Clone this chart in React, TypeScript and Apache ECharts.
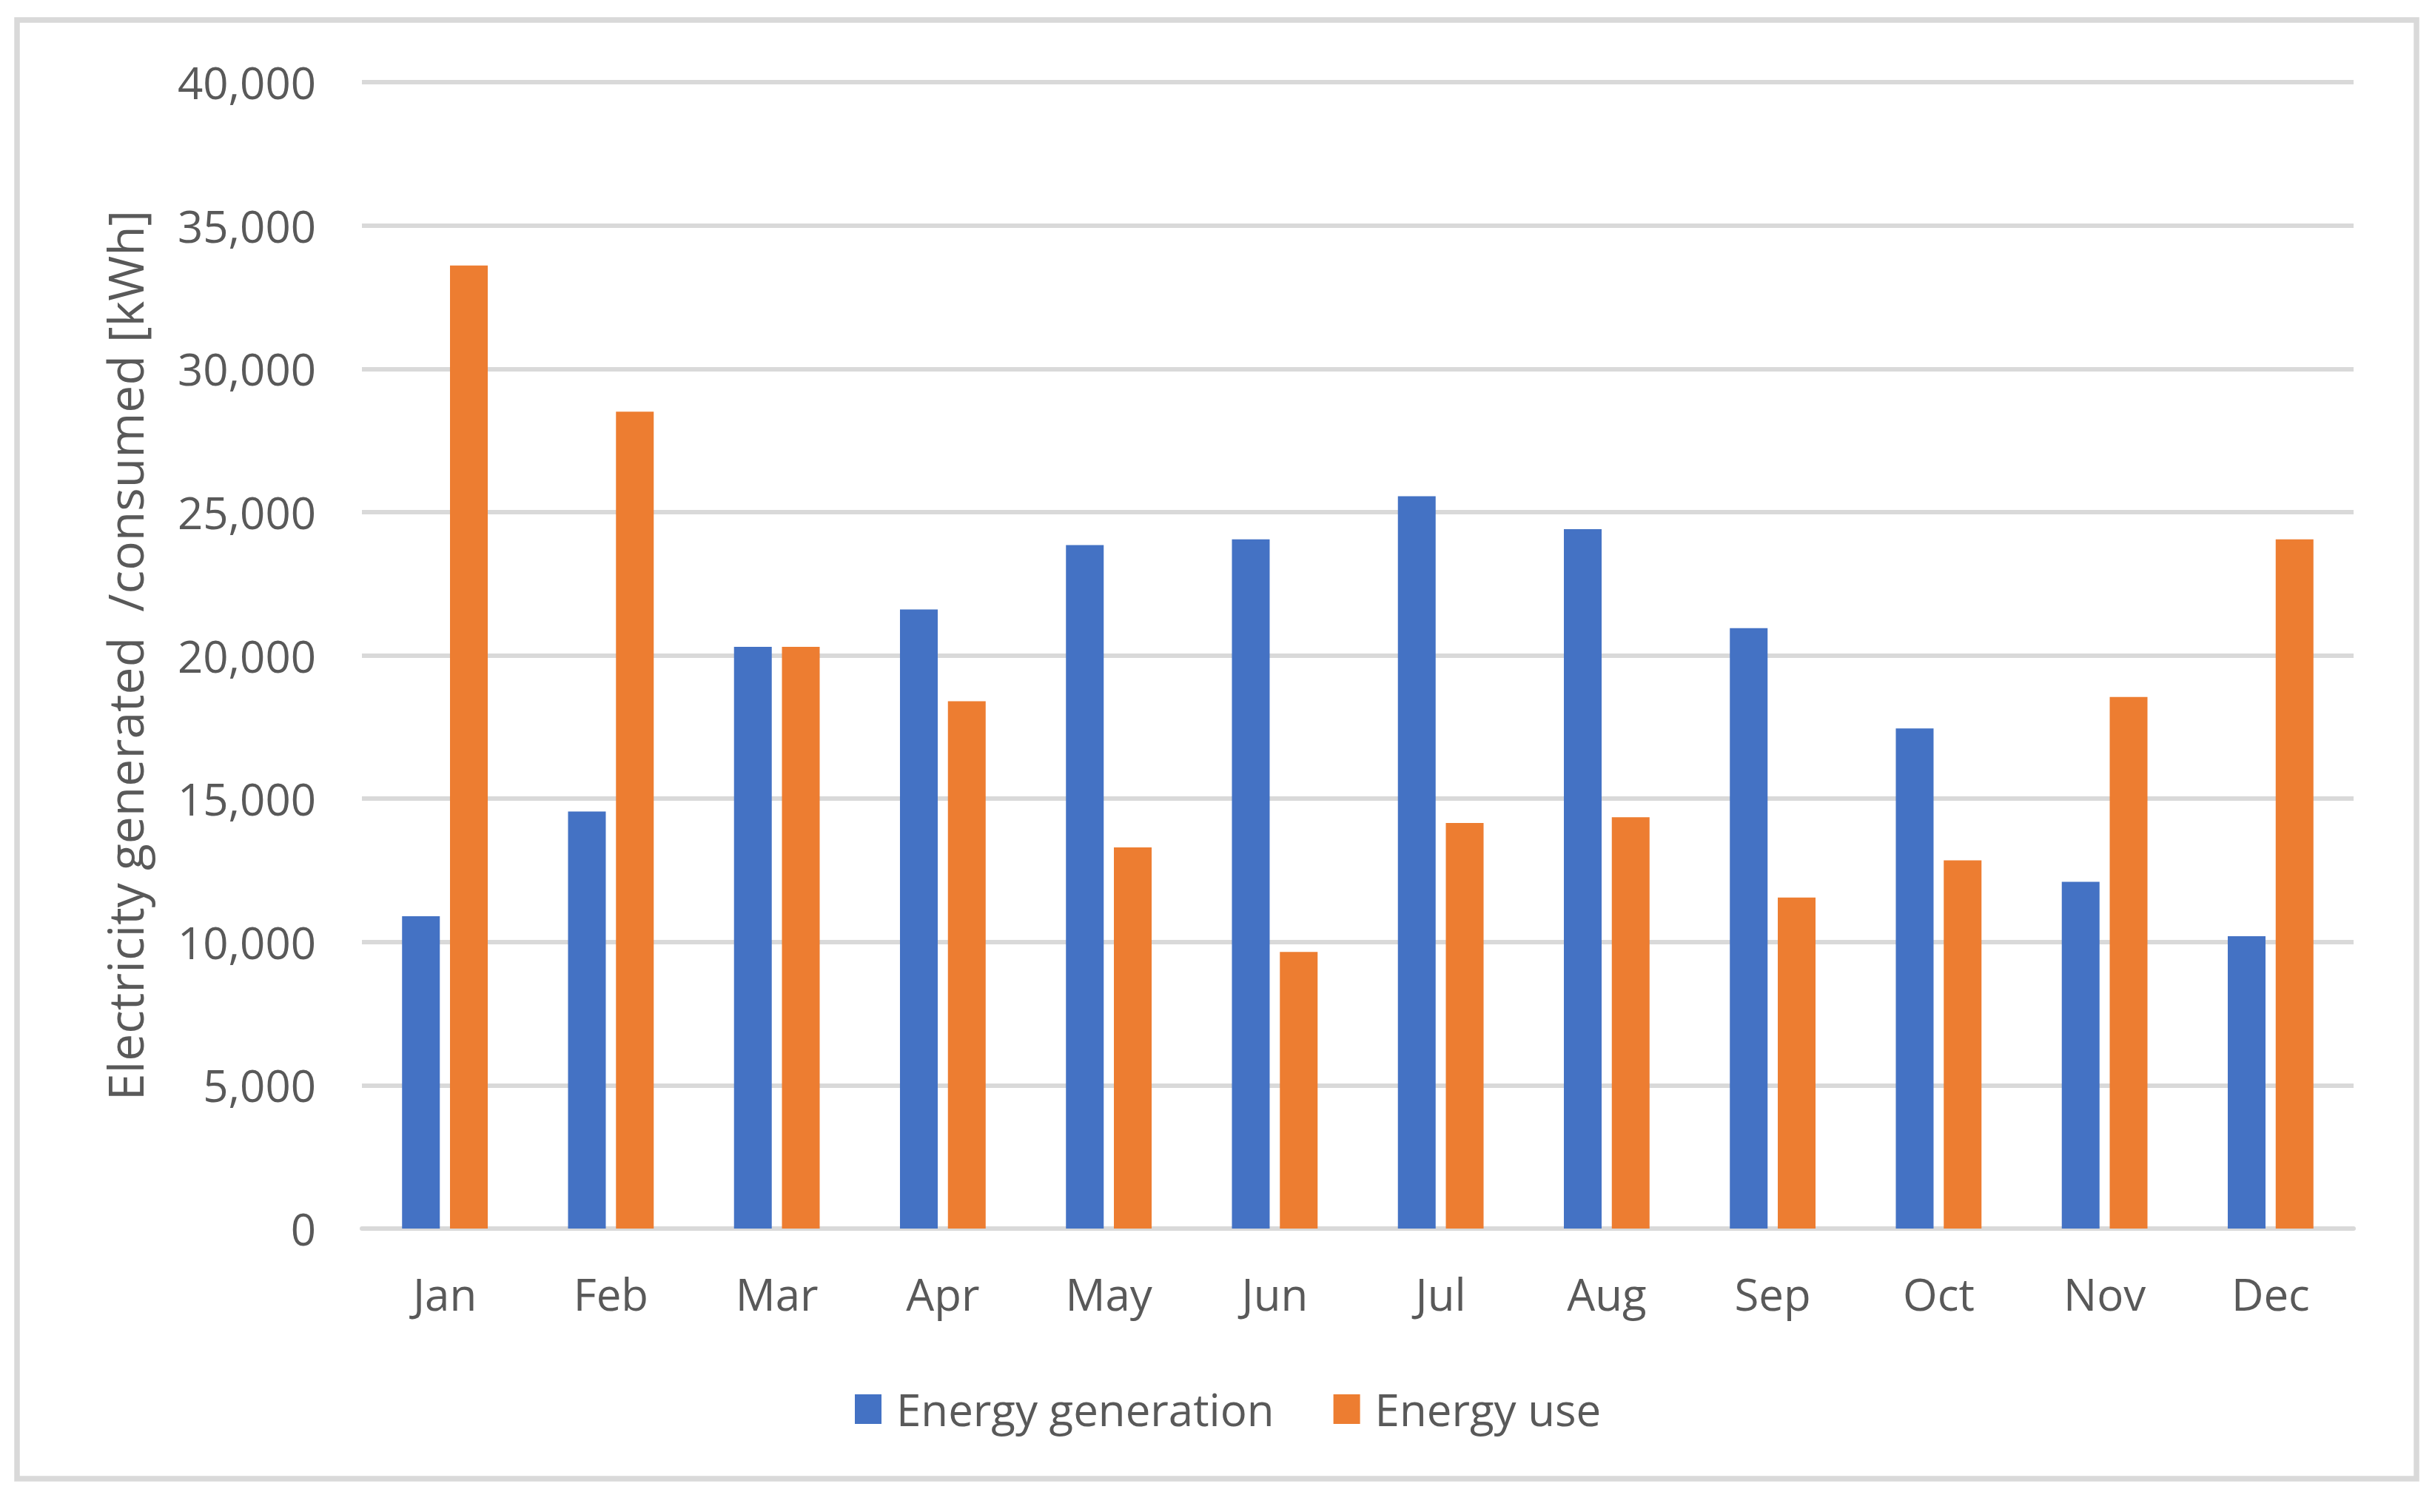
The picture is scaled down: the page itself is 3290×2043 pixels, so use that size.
import React, { useEffect, useRef } from "react";
import * as echarts from "echarts";

const months = ["Jan", "Feb", "Mar", "Apr", "May", "Jun", "Jul", "Aug", "Sep", "Oct", "Nov", "Dec"];
const generation = [10900, 14550, 20300, 21600, 23850, 24050, 25550, 24400, 20950, 17450, 12100, 10200];
const energyUse = [33600, 28500, 20300, 18400, 13300, 9650, 14150, 14350, 11550, 12850, 18550, 24050];
const yTicks = { min: 0, max: 40000, interval: 5000 };
const seriesNames = ["Energy generation", "Energy use"];
const yAxisTitle = "Electricity generated  /consumed [kWh]";

const TEXT = "#595959";
const GRID = "#d9d9d9";
const FONT = "'Open Sans', 'Noto Sans', sans-serif";

export default function App() {
  const ref = useRef<HTMLDivElement>(null);
  useEffect(() => {
    document.body.style.margin = "0";
    if (!ref.current) return;
    const chart = echarts.init(ref.current, null, { renderer: "svg" });
    chart.setOption({
      animation: false,
      backgroundColor: "#ffffff",
      textStyle: { fontFamily: FONT },
      graphic: [
        {
          type: "rect",
          shape: { x: 23, y: 27, width: 3242, height: 1971 },
          style: { fill: "none", stroke: GRID, lineWidth: 7.5 },
          silent: true,
        },
      ],
      grid: { left: 489, right: 110, top: 111, bottom: 383, outerBoundsMode: "none", containLabel: false },
      legend: {
        data: seriesNames,
        left: 1150,
        top: 1869,
        icon: "rect",
        itemWidth: 36,
        itemHeight: 40,
        itemGap: 80,
        textStyle: { color: TEXT, fontSize: 60, fontFamily: FONT, padding: [0, 0, 0, 15] },
      },
      xAxis: {
        type: "category",
        data: months,
        axisLine: { show: true, lineStyle: { color: GRID, width: 6 } },
        axisTick: { show: false },
        axisLabel: { color: TEXT, fontSize: 60, fontFamily: FONT, margin: 58 },
        splitLine: { show: false },
      },
      yAxis: {
        type: "value",
        min: yTicks.min,
        max: yTicks.max,
        interval: yTicks.interval,
        name: yAxisTitle,
        nameLocation: "middle",
        nameGap: 288,
        nameTextStyle: { color: TEXT, fontSize: 66, fontFamily: FONT },
        axisLine: { show: false },
        axisTick: { show: false },
        axisLabel: {
          color: TEXT,
          fontSize: 60,
          fontFamily: FONT,
          margin: 62,
          formatter: (v: number) => v.toLocaleString("en-US"),
        },
        splitLine: { show: true, lineStyle: { color: GRID, width: 6 } },
      },
      series: [
        {
          name: seriesNames[0],
          type: "bar",
          data: generation,
          barWidth: 51,
          barGap: "27%",
          itemStyle: { color: "#4472C4" },
        },
        {
          name: seriesNames[1],
          type: "bar",
          data: energyUse,
          barWidth: 51,
          barGap: "27%",
          itemStyle: { color: "#ED7D31" },
        },
      ],
    });
    return () => chart.dispose();
  }, []);
  return <div ref={ref} style={{ width: 3290, height: 2043 }} />;
}
